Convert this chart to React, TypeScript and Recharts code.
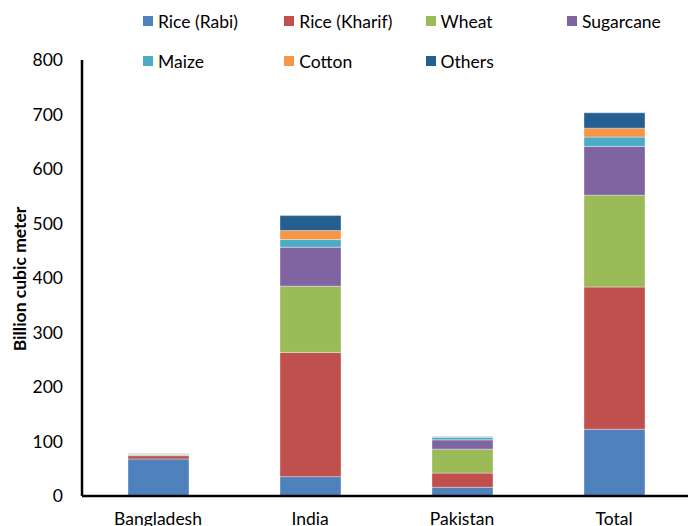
import React from 'react';
import { BarChart, Bar, XAxis, YAxis, Legend } from 'recharts';

const categories = ['Bangladesh', 'India', 'Pakistan', 'Total'];
const riceRabi = [68, 35.5, 16, 122.5];
const riceKharif = [6, 228, 26, 261];
const wheat = [1.5, 121.5, 44, 168.5];
const sugarcane = [1, 71.5, 17, 89.5];
const maize = [0.5, 14, 4.5, 17];
const cotton = [0.5, 16.5, 0.5, 16.5];
const others = [0.5, 27.5, 0.5, 28];
const yTicks = [0, 100, 200, 300, 400, 500, 600, 700, 800];

const seriesNames = ['Rice (Rabi)', 'Rice (Kharif)', 'Wheat', 'Sugarcane', 'Maize', 'Cotton', 'Others'];
const seriesValues = [riceRabi, riceKharif, wheat, sugarcane, maize, cotton, others];
const seriesColors = ['#4F81BD', '#C0504D', '#9BBB59', '#8064A2', '#4BACC6', '#F79646', '#255E91'];
const seriesKeys = ['rabi', 'kharif', 'wheat', 'sugarcane', 'maize', 'cotton', 'others'];

const data = categories.map((c, i) => {
  const row: Record<string, any> = { name: c };
  seriesKeys.forEach((k, j) => {
    row[k] = seriesValues[j][i];
  });
  return row;
});

const FONT = 'Lato, "Open Sans", sans-serif';
const FS = 17.5;

const renderLegend = () => (
  <div
    style={{
      position: 'relative',
      width: 688,
      height: 60,
      overflow: 'visible',
      fontFamily: FONT,
      fontSize: FS,
      color: '#000',
    }}
  >
    {seriesNames.map((n, i) => {
      const col = i % 4;
      const row = Math.floor(i / 4);
      return (
        <div
          key={n}
          style={{
            position: 'absolute',
            left: 143 + col * 141.3,
            top: 21 + row * 40 - 12,
            height: 24,
            display: 'flex',
            alignItems: 'center',
            whiteSpace: 'nowrap',
          }}
        >
          <span style={{ display: 'inline-block', width: 10, height: 10, background: seriesColors[i], marginRight: 5 }} />
          <span>{n}</span>
        </div>
      );
    })}
  </div>
);

const YLabel = () => (
  <text
    x={19}
    y={279}
    transform="rotate(-90, 19, 279)"
    textAnchor="middle"
    dominantBaseline="central"
    fontFamily={FONT}
    fontSize={FS}
    fontWeight="bold"
    fill="#000"
  >
    Billion cubic meter
  </text>
);

export default function App() {
  return (
    <div style={{ position: 'absolute', left: 0, top: 0, width: 688, height: 526, overflow: 'hidden', background: '#fff' }}>
      <BarChart
        width={690}
        height={526}
        data={data}
        margin={{ top: 0, right: 0, bottom: 0, left: 22 }}
        barSize={61}
      >
        <Legend
          verticalAlign="top"
          content={renderLegend}
          wrapperStyle={{ top: 0, left: 0, width: 688, height: 60 }}
        />
        <XAxis
          dataKey="name"
          height={30}
          tickLine={false}
          tickSize={6}
          tickMargin={11}
          axisLine={{ stroke: '#000', strokeWidth: 2.5 }}
          tick={{ fill: '#000', fontSize: FS, fontFamily: FONT }}
        />
        <YAxis
          width={60}
          domain={[0, 800]}
          ticks={yTicks}
          interval={0}
          tickLine={false}
          tickSize={6}
          tickMargin={13}
          axisLine={{ stroke: '#000', strokeWidth: 2.5 }}
          tick={{ fill: '#000', fontSize: FS, fontFamily: FONT }}
          label={<YLabel />}
        />
        {seriesKeys.map((k, j) => (
          <Bar
            key={k}
            dataKey={k}
            name={seriesNames[j]}
            stackId="a"
            fill={seriesColors[j]}
            stroke="rgba(255,255,255,0.35)"
            strokeWidth={1}
            isAnimationActive={false}
          />
        ))}
      </BarChart>
    </div>
  );
}
